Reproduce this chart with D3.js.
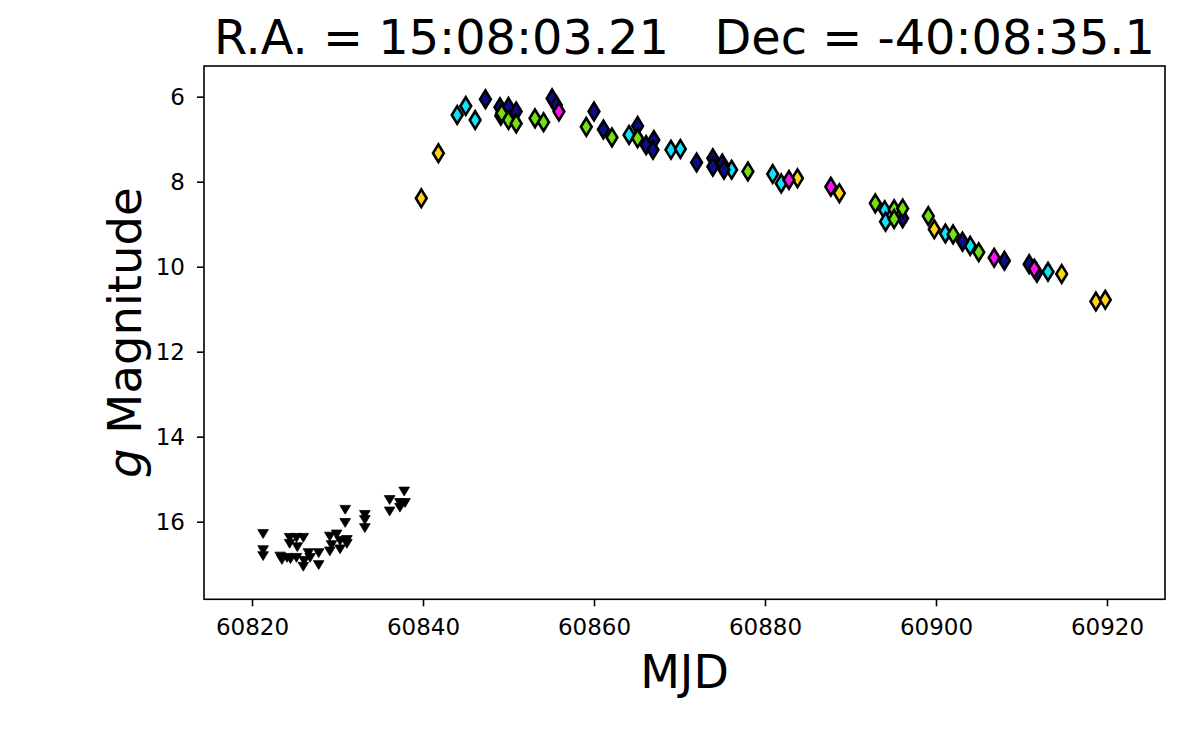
<!DOCTYPE html>
<html>
<head>
<meta charset="utf-8">
<script src="https://cdn.jsdelivr.net/npm/d3@7"></script>
<style>
    body { margin: 0; background: #fff; }
    svg { display: block; font-family: "DejaVu Sans", sans-serif; }
</style>
</head>
<body>
<div id="lightcurve"></div>
<script>
// Upper limits (black down-triangles): [MJD, g mag]
const limits = [
    [60821.3, 16.29], [60821.3, 16.67], [60821.3, 16.81],
    [60823.3, 16.82], [60823.5, 16.90], [60824.1, 16.85], [60824.4, 16.38],
    [60824.4, 16.52], [60824.5, 16.88], [60825.2, 16.38], [60825.3, 16.60],
    [60825.2, 16.85], [60826.0, 16.38], [60826.0, 17.06], [60826.1, 16.92],
    [60826.6, 16.74], [60826.8, 16.85], [60827.8, 16.74], [60827.8, 17.02],
    [60829.1, 16.35], [60829.1, 16.70], [60829.3, 16.55], [60829.9, 16.30],
    [60830.3, 16.45], [60830.3, 16.65], [60830.9, 15.72], [60830.9, 16.03],
    [60831.1, 16.43], [60831.1, 16.52], [60833.2, 15.84], [60833.2, 15.96],
    [60833.2, 16.15], [60836.1, 15.49], [60836.1, 15.76], [60837.3, 15.56],
    [60837.3, 15.67], [60837.8, 15.29], [60837.9, 15.56]
];

// Detections, one array per camera colour
const cyanPts = [
    [60844.0, 6.43], [60845.0, 6.22], [60846.1, 6.55], [60864.1, 6.90],
    [60869.0, 7.25], [60870.1, 7.23], [60876.1, 7.72], [60880.9, 7.82],
    [60881.9, 8.04], [60894.0, 8.67], [60894.1, 8.94], [60901.1, 9.22],
    [60904.0, 9.51], [60913.1, 10.12]
];
const navyPts = [
    [60847.3, 6.06], [60849.0, 6.25], [60849.1, 6.45], [60850.0, 6.24],
    [60850.9, 6.35], [60855.1, 6.04], [60855.6, 6.20], [60860.0, 6.35],
    [60861.1, 6.77], [60865.1, 6.69], [60866.1, 7.14], [60867.0, 7.02],
    [60866.9, 7.25], [60872.0, 7.55], [60873.9, 7.45], [60873.9, 7.65],
    [60875.0, 7.57], [60875.2, 7.72], [60896.1, 8.86], [60903.1, 9.41],
    [60908.0, 9.86], [60910.9, 9.94], [60911.8, 10.14]
];
const greenPts = [
    [60849.2, 6.39], [60850.0, 6.55], [60850.9, 6.63], [60853.1, 6.51],
    [60854.1, 6.60], [60859.1, 6.71], [60862.1, 6.96], [60865.1, 6.98],
    [60878.0, 7.76], [60892.9, 8.51], [60895.1, 8.65], [60895.1, 8.88],
    [60896.1, 8.63], [60899.1, 8.81], [60902.0, 9.24], [60905.0, 9.66]
];
const goldPts = [
    [60839.8, 8.39], [60841.8, 7.33], [60883.8, 7.92], [60888.7, 8.27],
    [60899.8, 9.12], [60914.7, 10.17], [60918.7, 10.82], [60919.8, 10.78]
];
const magentaPts = [
    [60855.9, 6.35], [60882.8, 7.96], [60887.7, 8.12], [60906.8, 9.79],
    [60911.5, 10.05]
];

const xTicks = [60820, 60840, 60860, 60880, 60900, 60920];
const yTicks = [6, 8, 10, 12, 14, 16];

const series = [
    { pts: cyanPts, color: "#12e1f7" },
    { pts: navyPts, color: "#0c0c8c" },
    { pts: greenPts, color: "#72e214" },
    { pts: goldPts, color: "#ffd21a" },
    { pts: magentaPts, color: "#ff10f5" }
];

const width = 1200;
const height = 741;
const margin = { top: 66, right: 35, bottom: 141.7, left: 204 };

const svg = d3.select("#lightcurve")
    .append("svg")
    .attr("width", width)
    .attr("height", height);

const x = d3.scaleLinear()
    .domain([60814.386, 60926.784])
    .range([margin.left, width - margin.right]);

// magnitudes: brighter at the top
const y = d3.scaleLinear()
    .domain([5.278, 17.826])
    .range([margin.top, height - margin.bottom]);

// x-axis
const xAxis = svg.append("g")
    .attr("transform", `translate(0, ${height - margin.bottom})`)
    .call(d3.axisBottom(x).tickValues(xTicks).tickFormat(d3.format("d")).tickSize(7).tickPadding(12).tickSizeOuter(0));

// y-axis
const yAxis = svg.append("g")
    .attr("transform", `translate(${margin.left}, 0)`)
    .call(d3.axisLeft(y).tickValues(yTicks).tickSize(7).tickPadding(12).tickSizeOuter(0));

[xAxis, yAxis].forEach(g => {
    g.select(".domain").remove();
    g.selectAll(".tick line").attr("stroke", "#000").attr("stroke-width", 1.6);
    g.selectAll(".tick text")
        .attr("fill", "#000")
        .style("font-family", "DejaVu Sans")
        .style("font-size", "23px");
});

// frame
svg.append("rect")
    .attr("x", margin.left)
    .attr("y", margin.top)
    .attr("width", width - margin.right - margin.left)
    .attr("height", height - margin.bottom - margin.top)
    .attr("fill", "none")
    .attr("stroke", "#000")
    .attr("stroke-width", 1.6);

// upper limits
svg.append("g")
    .selectAll("path")
    .data(limits)
    .enter()
    .append("path")
    .attr("transform", d => `translate(${x(d[0])}, ${y(d[1])})`)
    .attr("d", "M-5.3,-4.4L5.3,-4.4L0,4.4Z")
    .attr("fill", "#000")
    .attr("stroke", "#000")
    .attr("stroke-width", 0.8);

// detections as thin diamonds
series.forEach(s => {
    svg.append("g")
        .selectAll("path")
        .data(s.pts)
        .enter()
        .append("path")
        .attr("transform", d => `translate(${x(d[0])}, ${y(d[1])})`)
        .attr("d", "M0,-8.8L5.4,0L0,8.8L-5.4,0Z")
        .attr("fill", s.color)
        .attr("stroke", "#000")
        .attr("stroke-width", 2.6);
});

// title and axis labels
svg.append("text")
    .attr("x", (margin.left + width - margin.right) / 2)
    .attr("y", 54)
    .attr("text-anchor", "middle")
    .style("font-size", "47.8px")
    .style("white-space", "pre")
    .attr("xml:space", "preserve")
    .text("R.A. = 15:08:03.21   Dec = -40:08:35.1");

svg.append("text")
    .attr("x", (margin.left + width - margin.right) / 2)
    .attr("y", 688)
    .attr("text-anchor", "middle")
    .style("font-size", "46px")
    .text("MJD");

const ylab = svg.append("text")
    .attr("transform", `translate(141, ${(margin.top + height - margin.bottom) / 2}) rotate(-90)`)
    .attr("text-anchor", "middle")
    .style("font-size", "46.5px");
ylab.append("tspan").style("font-style", "italic").text("g");
ylab.append("tspan").text(" Magnitude");
</script>
</body>
</html>
